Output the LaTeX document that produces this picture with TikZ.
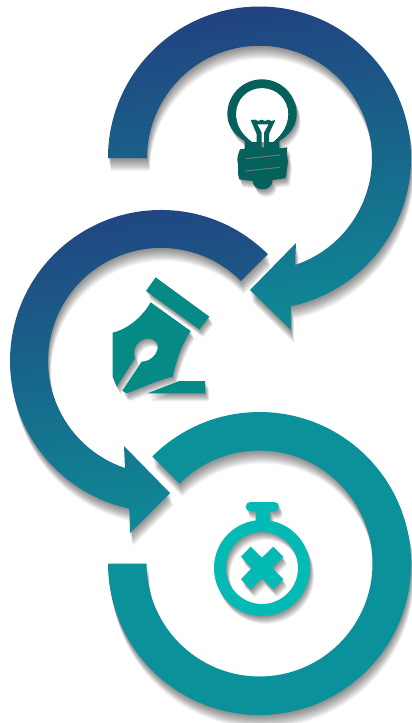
\documentclass[tikz,border=0pt]{standalone}
\definecolor{navy}{HTML}{214380}
\definecolor{tealA}{HTML}{0E8A96}
\definecolor{ringC}{HTML}{0A9199}
\definecolor{bulbC}{HTML}{04615C}
\definecolor{penC}{HTML}{058A85}
\definecolor{watchC}{HTML}{04BAB5}
\newcommand\softshadow[3]{%
  \foreach \k in {1,2,...,12}{%
    \fill[black,fill opacity=.045,even odd rule,shift={(#2*\k/12,#3*\k/12)}] #1;}%
}
\newcommand\ringA{(108,158) arc[start angle=180,end angle=438.06,radius=151.5] -- (291,330) -- (250,290) -- (296,243) -- (295,265) arc[start angle=431.6,end angle=180,radius=112.5] -- cycle}
\newcommand\ringB{(267.8,254.2) arc[start angle=-45,end angle=-257.9,radius=151] -- (130,533) -- (170,493) -- (124,446) -- (125,468) arc[start angle=-251.4,end angle=-45,radius=113] -- cycle}
\newcommand\ringC{(152.4,456.4) arc[start angle=225,end angle=540,radius=151.5] -- (146.5,563.5) arc[start angle=540,end angle=225,radius=113] -- cycle}
\newcommand\penCap{(197,52) -- (358,170) -- (328,208) -- (168,93) -- cycle}
\newcommand\penBody{(182,127) -- (302,213) .. controls (275,255) and (262,290) .. (248,350) .. controls (200,362) and (150,385) .. (110,400) -- (97,392) -- (155,305) .. controls (190,305) and (215,265) .. (198,245) .. controls (170,220) and (120,250) .. (135,295) -- (80,380) -- (68,350) -- (68,218) .. controls (120,205) and (160,165) .. (182,127) -- cycle}
\newcommand\penDash{(172,400) -- (268,363) -- (345,363) -- (345,400) -- cycle}
\newcommand\watchRing{(216,234) circle[radius=144] (216,234) circle[radius=108]}
\newcommand\watchTop{(181,36) -- (253,36) arc[start angle=-90,end angle=90,radius=14] -- (240,64) -- (240,98) -- (197,98) -- (197,64) -- (181,64) arc[start angle=90,end angle=270,radius=14] -- cycle}
\newcommand\watchX{(182,170) -- (216,203) -- (250,170) -- (280,200) -- (247,234) -- (280,268) -- (250,298) -- (216,265) -- (182,298) -- (153,268) -- (185,234) -- (153,200) -- cycle}
\newcommand\bulbShape{(134,243) .. controls (100,222) and (82,195) .. (82,162) .. controls (82,105) and (128,58) .. (186,58) .. controls (244,58) and (290,105) .. (290,162) .. controls (290,195) and (272,222) .. (238,243) -- (238,265) -- (262,262) .. controls (256,285) and (268,300) .. (262,320) .. controls (258,335) and (262,345) .. (255,355) -- (218,360) .. controls (218,380) and (200,388) .. (188,388) .. controls (172,388) and (158,378) .. (158,363) -- (118,358) .. controls (110,340) and (118,320) .. (112,300) .. controls (112,285) and (118,275) .. (120,268) -- (134,266) -- cycle}
\newcommand\bulbFull{\bulbShape (156,246) .. controls (122,222) and (108,192) .. (108,162) .. controls (108,118) and (142,84) .. (186,84) .. controls (230,84) and (265,118) .. (265,162) .. controls (265,192) and (250,222) .. (220,246) -- (207,246) -- (207,222) -- (226,180) -- (214,183) -- (205,179) -- (195,183) -- (185,179) -- (175,183) -- (165,179) -- (152,180) -- (170,222) -- (170,246) -- cycle (172,193) -- (206,193) -- (192,218) -- (192,262) -- (185,262) -- (185,218) -- cycle}
\begin{document}
\begin{tikzpicture}[x=1pt,y=1pt,yscale=-1]
\useasboundingbox (0,0) rectangle (412,723);
\fill[white] (0,0) rectangle (412,723);
% rings
\softshadow{\ringC}{3}{13}
\fill[ringC] \ringC;
\softshadow{\ringB}{3}{13}
\shade[top color=navy,bottom color=tealA,shading angle=8] \ringB;
\softshadow{\ringA}{3}{13}
\shade[top color=navy,bottom color=tealA,shading angle=8] \ringA;
% bulb
\begin{scope}[shift={(200,60)},scale=1/3]
  \softshadow{\bulbShape}{12}{24}
  \fill[white] (156,246) .. controls (122,222) and (108,192) .. (108,162) .. controls (108,118) and (142,84) .. (186,84) .. controls (230,84) and (265,118) .. (265,162) .. controls (265,192) and (250,222) .. (220,246) -- cycle;
  \fill[bulbC,even odd rule] \bulbFull;
  \draw[gray!80!bulbC,line width=1pt] (138,296) -- (240,285) (135,333) -- (240,322);
\end{scope}
% pen
\begin{scope}[shift={(90,260)},scale=1/3]
  \softshadow{\penCap}{12}{24}
  \softshadow{\penBody}{12}{24}
  \softshadow{\penDash}{12}{24}
  \fill[penC] \penCap;
  \fill[penC] \penBody;
  \fill[penC] \penDash;
\end{scope}
% watch
\begin{scope}[shift={(190,490)},scale=1/3]
  \softshadow{\watchRing}{12}{24}
  \softshadow{\watchTop}{12}{24}
  \softshadow{\watchX}{12}{24}
  \fill[watchC,even odd rule] \watchRing;
  \fill[watchC] \watchTop;
  \fill[watchC] \watchX;
\end{scope}
\end{tikzpicture}
\end{document}
